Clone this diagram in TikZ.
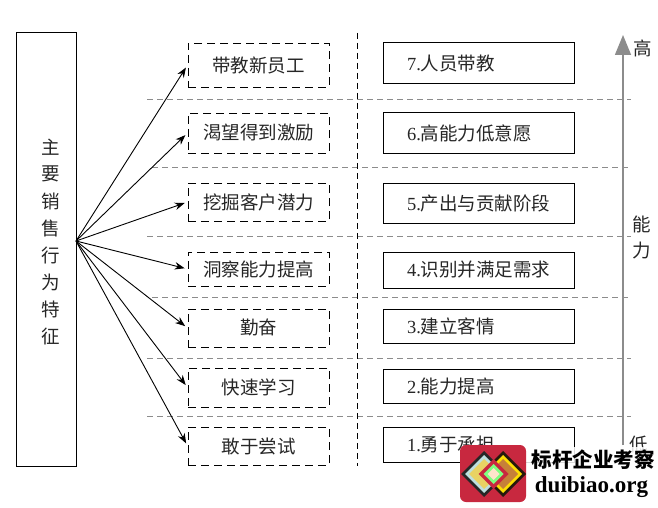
\documentclass[tikz,border=0pt]{standalone}
\usepackage{fontspec}
\setmainfont{Liberation Serif}
\newfontfamily\cjk{Noto Sans CJK SC}
\usetikzlibrary{arrows.meta}
\tikzset{
    x=1pt,y=-1pt,
    behav/.style={draw,dashed,dash pattern=on 8pt off 5pt,line width=.9pt,minimum width=141pt,inner sep=0pt,font=\cjk\fontsize{18.5}{22}\selectfont,text=black!85},
    stage/.style={draw,line width=1pt,minimum width=191pt,inner sep=0pt,text width=167pt,align=left,execute at begin node=\hspace*{12pt},font=\fontsize{18.5}{22}\selectfont,text=black!85},
    level/.style={draw=black!45,dashed,dash pattern=on 6pt off 4pt,line width=.8pt},
    fanarrow/.style={-{Stealth[length=10pt,width=7.5pt]},line width=.9pt,shorten >=3pt},
    scale label/.style={inner sep=0pt,font=\cjk\fontsize{18.5}{22}\selectfont,text=black!85}
}
\definecolor{logored}{HTML}{C8283F}
\begin{document}
\begin{tikzpicture}
            \useasboundingbox (0,0) rectangle (658,508);
            \draw[level] (147,99) -- (631,99);
            \draw[level] (152,167) -- (631,167);
            \draw[level] (147,236) -- (631,236);
            \draw[level] (152,297) -- (631,297);
            \draw[level] (147,358) -- (631,358);
            \draw[level] (147,416) -- (631,416);
            \draw[dashed,dash pattern=on 6pt off 4pt,line width=.9pt] (357,33) -- (357,466);
            \coordinate (lowEnd) at (623,445);
            \coordinate (highEnd) at (623,35);
            \draw[black!45,line width=1.5pt,-{Triangle[length=20pt,width=16pt]}] (lowEnd) -- (highEnd);
            \node[draw,line width=1pt,minimum width=60pt,minimum height=433pt,inner sep=0pt] (main) at (46,249.5) {};
            \node[scale label] at (51,147) {主};
            \node[scale label] at (51,174) {要};
            \node[scale label] at (51,201) {销};
            \node[scale label] at (51,228) {售};
            \node[scale label] at (51,255) {行};
            \node[scale label] at (51,282) {为};
            \node[scale label] at (51,309) {特};
            \node[scale label] at (51,336) {征};
            \coordinate (fan) at (76,241);
            \node[behav,minimum height=44pt] (B7) at (258.5,65) {带教新员工};
            \node[behav,minimum height=40pt] (B6) at (258.5,133) {渴望得到激励};
            \node[behav,minimum height=38pt] (B5) at (258.5,202) {挖掘客户潜力};
            \node[behav,minimum height=34pt] (B4) at (258.5,269) {洞察能力提高};
            \node[behav,minimum height=38pt] (B3) at (258.5,328) {勤奋};
            \node[behav,minimum height=39pt] (B2) at (258.5,387.5) {快速学习};
            \node[behav,minimum height=38pt] (B1) at (258.5,446) {敢于尝试};
            \draw[fanarrow] (fan) -- (B7.west);
            \draw[fanarrow] (fan) -- (B6.west);
            \draw[fanarrow] (fan) -- (B5.west);
            \draw[fanarrow] (fan) -- (B4.west);
            \draw[fanarrow] (fan) -- (B3.west);
            \draw[fanarrow] (fan) -- (B2.west);
            \draw[fanarrow] (fan) -- (B1.west);
            \node[stage,minimum height=41pt] (S7) at (478.5,63.5) {7.{\cjk 人员带教}};
            \node[stage,minimum height=40pt] (S6) at (478.5,133) {6.{\cjk 高能力低意愿}};
            \node[stage,minimum height=40pt] (S5) at (478.5,203) {5.{\cjk 产出与贡献阶段}};
            \node[stage,minimum height=36pt] (S4) at (478.5,270) {4.{\cjk 识别并满足需求}};
            \node[stage,minimum height=34pt] (S3) at (478.5,326) {3.{\cjk 建立客情}};
            \node[stage,minimum height=34pt] (S2) at (478.5,386) {2.{\cjk 能力提高}};
            \node[stage,minimum height=35pt] (S1) at (478.5,444.5) {1.{\cjk 勇于承担}};
            \node[scale label] (high) at (643,48) {高};
            \node[scale label] (ability) at (642,224) {能};
            \node[scale label] (power) at (642,251) {力};
            \node[scale label] (low) at (639,445) {低};
            \fill[white,opacity=.85] (526,447) rectangle (658,502);
            \fill[logored,rounded corners=6pt] (460,445) rectangle (526,502);
            \fill[black!85] (484,474) +(0,-23) -- +(23,0) -- +(0,23) -- +(-23,0) -- cycle;
            \fill[white!75!teal] (484,474) +(0,-19) -- +(19,0) -- +(0,19) -- +(-19,0) -- cycle;
            \fill[brown!50!yellow!70] (484,474) +(0,-15) -- +(15,0) -- +(0,15) -- +(-15,0) -- cycle;
            \fill[black!80!brown] (503,474) +(0,-23) -- +(23,0) -- +(0,23) -- +(-23,0) -- cycle;
            \fill[yellow!80!orange] (503,474) +(0,-19) -- +(19,0) -- +(0,19) -- +(-19,0) -- cycle;
            \fill[brown!90!orange] (503,474) +(0,-15) -- +(15,0) -- +(0,15) -- +(-15,0) -- cycle;
            \fill[logored] (493.5,474) +(0,-15) -- +(15,0) -- +(0,15) -- +(-15,0) -- cycle;
            \fill[green!50!white] (493.5,474) +(0,-10) -- +(10,0) -- +(0,10) -- +(-10,0) -- cycle;
            \fill[white!80!orange] (493.5,474) +(0,-6) -- +(6,0) -- +(0,6) -- +(-6,0) -- cycle;
            \node[inner sep=0pt,anchor=center,font=\cjk\bfseries\fontsize{20.5}{24}\selectfont] (markcn) at (593,460) {标杆企业考察};
            \node[inner sep=0pt,anchor=center,font=\bfseries\fontsize{23}{24}\selectfont] (markurl) at (591.5,487) {duibiao.org};
        \end{tikzpicture}
\end{document}
